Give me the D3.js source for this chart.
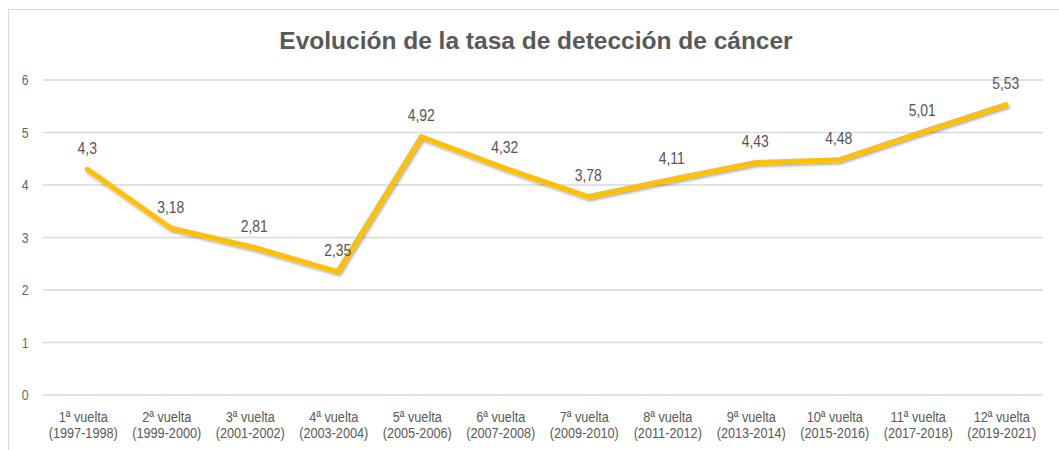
<!DOCTYPE html>
<html>
<head>
<meta charset="utf-8">
<script src="https://cdn.jsdelivr.net/npm/d3@7"></script>
<style>
  body { margin: 0; background: #fff; }
  svg { display: block; font-family: "Liberation Sans", Arial, sans-serif; }
</style>
</head>
<body>
<div id="chart"></div>
<script>
// datos
const rounds = ["1ª vuelta", "2ª vuelta", "3ª vuelta", "4ª vuelta", "5ª vuelta", "6ª vuelta",
  "7ª vuelta", "8ª vuelta", "9ª vuelta", "10ª vuelta", "11ª vuelta", "12ª vuelta"];
const periods = ["(1997-1998)", "(1999-2000)", "(2001-2002)", "(2003-2004)", "(2005-2006)", "(2007-2008)",
  "(2009-2010)", "(2011-2012)", "(2013-2014)", "(2015-2016)", "(2017-2018)", "(2019-2021)"];
const rates = [4.3, 3.18, 2.81, 2.35, 4.92, 4.32, 3.78, 4.11, 4.43, 4.48, 5.01, 5.53];
const yTicks = [0, 1, 2, 3, 4, 5, 6];

const width = 1059, height = 450;
const narrow = 0.82; // simula Arial Narrow

const svg = d3.select("#chart").append("svg")
  .attr("width", width)
  .attr("height", height);

// sombra de la línea
const f = svg.append("defs").append("filter").attr("id", "shadow")
  .attr("x", "-5%").attr("y", "-20%").attr("width", "110%").attr("height", "140%");
f.append("feDropShadow")
  .attr("dx", 1.5).attr("dy", 2).attr("stdDeviation", 1.5)
  .attr("flood-color", "#000").attr("flood-opacity", 0.35);

// marco
svg.append("rect")
  .attr("x", 8.5).attr("y", 9.5)
  .attr("width", width + 20).attr("height", height + 20)
  .attr("fill", "#fff").attr("stroke", "#d9d9d9");

svg.append("text")
  .attr("x", 536).attr("y", 49)
  .attr("text-anchor", "middle")
  .attr("fill", "#595959")
  .style("font-size", "24.5px")
  .style("font-weight", "bold")
  .text("Evolución de la tasa de detección de cáncer");

const x = d3.scaleBand()
  .domain(rounds)
  .range([45.5, 1047.5]);

const y = d3.scaleLinear()
  .domain([0, 6])
  .range([395, 80]);

const cx = i => x(rounds[i]) + x.bandwidth() / 2;

// texto estrecho
function narrowText(g, px, py, str, size, fill, anchor) {
  return g.append("text")
    .attr("transform", `translate(${px},${py}) scale(${narrow},1)`)
    .attr("text-anchor", anchor || "middle")
    .attr("fill", fill)
    .style("font-size", size + "px")
    .text(str);
}

// rejilla
svg.append("g")
  .selectAll("line")
  .data(yTicks)
  .join("line")
  .attr("x1", 43).attr("x2", 1043)
  .attr("y1", d => y(d)).attr("y2", d => y(d))
  .attr("stroke", "#d9d9d9").attr("stroke-width", 1.3);

const yg = svg.append("g");
yTicks.forEach(t => narrowText(yg, 28.5, y(t) + 5, String(t), 15, "#666", "end"));

// eje x (dos líneas)
const xg = svg.append("g");
rounds.forEach((r, i) => {
  narrowText(xg, cx(i) - 4, 422, r, 15.5, "#595959");
  narrowText(xg, cx(i) - 4, 438, periods[i], 15.5, "#595959");
});

const line = d3.line()
  .x((d, i) => cx(i))
  .y(d => y(d));

svg.append("path")
  .datum(rates)
  .attr("d", line)
  .attr("fill", "none")
  .attr("stroke", "#ffc000")
  .attr("stroke-width", 5)
  .attr("stroke-linejoin", "miter")
  .attr("stroke-linecap", "round")
  .attr("filter", "url(#shadow)");

// etiquetas de datos
const lg = svg.append("g");
rates.forEach((d, i) => narrowText(lg, cx(i), y(d) - 15.5, String(d).replace(".", ","), 17, "#555"));
</script>
</body>
</html>
